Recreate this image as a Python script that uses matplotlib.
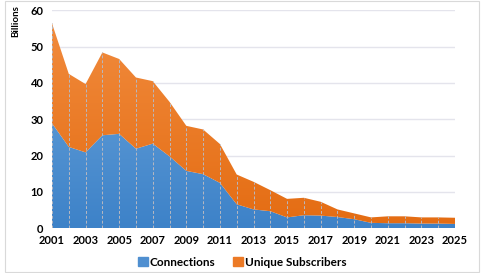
import numpy as np
import matplotlib.pyplot as plt
from matplotlib.patches import Rectangle, Patch
from matplotlib.colors import LinearSegmentedColormap

years = list(range(2001, 2026))
connections = [28.9, 22.4, 20.9, 25.6, 26.0, 21.9, 23.3, 19.8, 15.8, 14.9, 12.5, 6.6, 5.2,
               4.7, 3.0, 3.6, 3.5, 3.1, 2.5, 1.5, 1.4, 1.4, 1.3, 1.3, 1.2]
total = [56.4, 42.5, 39.7, 48.4, 46.6, 41.5, 40.5, 34.8, 28.2, 27.2, 23.2, 14.8, 12.8,
         10.5, 8.1, 8.4, 7.3, 5.2, 4.1, 3.0, 3.3, 3.3, 3.0, 3.0, 2.9]
unique = [t - c for t, c in zip(total, connections)]
xticks = list(range(2001, 2026, 2))

plt.rcParams['font.family'] = ['Lato', 'DejaVu Sans']

fig = plt.figure(figsize=(4.85, 2.73), dpi=100)
ax = fig.add_axes([52/485, 1 - 228.3/273, (455-52)/485, (228.3-10.3)/273])

# outer chart border
fig.patches.append(Rectangle((5/485, 1/273), 474/485, 271/273, transform=fig.transFigure,
                             fill=False, edgecolor='#d9d9d9', lw=0.8))

ax.set_yticks(range(0, 61, 10))
ax.set_xticks(xticks)
ax.grid(axis='y', color='#e4e4ec', lw=1)
ax.set_axisbelow(True)
for s in ax.spines.values():
    s.set_visible(False)
ax.tick_params(length=0, labelsize=8)
for lbl in ax.get_xticklabels() + ax.get_yticklabels():
    lbl.set_fontweight('bold')
ax.tick_params(axis='y', pad=6)
ax.tick_params(axis='x', pad=5)
ax.set_ylabel('Billions', fontsize=7, fontweight='bold')
ax.yaxis.set_label_coords(-0.078, 0.95)


def grad_fill(lower, upper, c_top, c_bot, label):
    # stacked area with a vertical colour gradient
    poly = ax.fill_between(years, lower, upper, color=c_top, lw=0, label=label)
    grad = np.linspace(0, 1, 256).reshape(-1, 1)
    cmap = LinearSegmentedColormap.from_list('g', [c_bot, c_top])
    im = ax.imshow(grad, extent=[2001, 2025, 0, 60], origin='lower', cmap=cmap,
                   aspect='auto', zorder=poly.get_zorder())
    im.set_clip_path(poly.get_paths()[0], transform=ax.transData)
    poly.set_alpha(0)
    return poly


grad_fill([0]*len(years), connections, '#70a8de', '#3d82c8', 'Connections')
grad_fill(connections, total, '#f28d40', '#e46c12', 'Unique Subscribers')
ax.set_xlim(2001, 2025)
ax.set_ylim(0, 60)

# drop lines
ax.vlines(years, 0, total, colors='#b8b8c0', linestyles=(0, (3, 2)), lw=0.7, zorder=3)

handles = [Patch(color='#4f8fd0'), Patch(color='#ec7a26')]
fig.legend(handles, ['Connections', 'Unique Subscribers'], loc='center',
           bbox_to_anchor=(0.5, 1 - 262/273), ncol=2, frameon=False,
           handlelength=0.8, handleheight=0.8, handletextpad=0.2,
           columnspacing=1.5, prop={'weight': 'bold', 'size': 8.5})

fig.savefig('out.png', dpi=100)
